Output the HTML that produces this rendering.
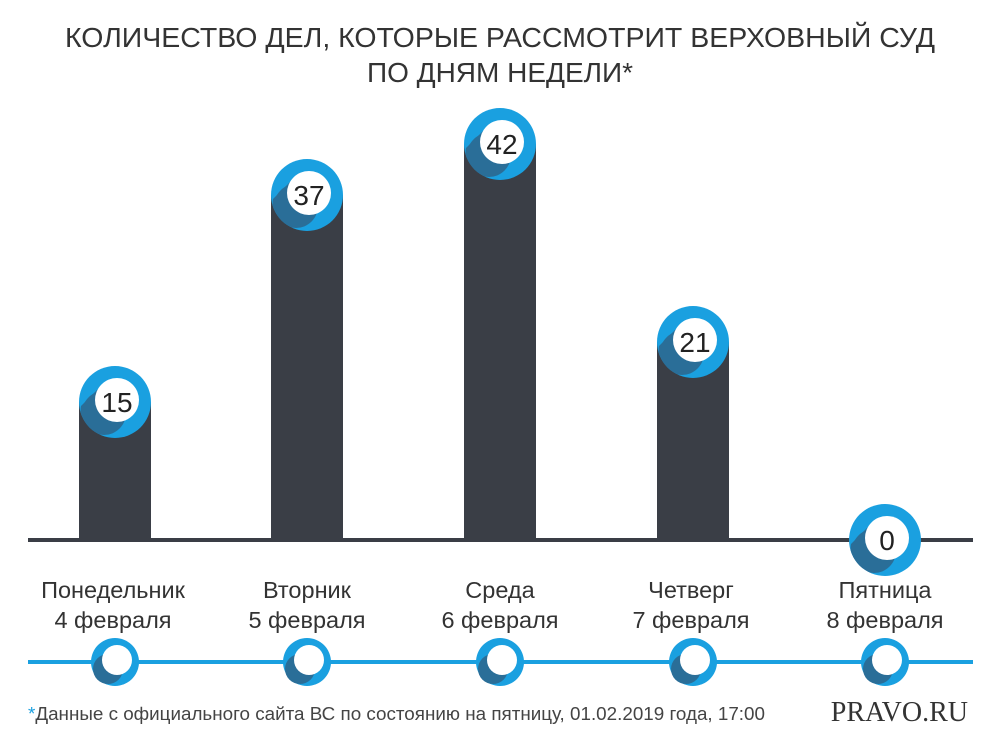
<!DOCTYPE html>
<html><head><meta charset="utf-8"><style>
body{margin:0;background:#fff;}
svg{display:block;font-family:"Liberation Sans",sans-serif;}
</style></head><body>
<svg width="1000" height="750" viewBox="0 0 1000 750" xmlns="http://www.w3.org/2000/svg">
<defs>
<clipPath id="cp"><circle cx="0" cy="0" r="36"/></clipPath>
<g id="bub">
<circle cx="0" cy="0" r="36" fill="#1aa0e0"/>
<g clip-path="url(#cp)"><path d="M-16,-14 L-34,4 A22,22 0 0 0 -8,30 L10,12 Z" fill="#2a6e98"/><circle cx="-11" cy="11" r="22" fill="#2a6e98"/></g>
<circle cx="2" cy="-2" r="22" fill="#fff"/>
</g>
<g id="sm">
<circle cx="0" cy="0" r="24" fill="#1aa0e0"/>
<circle cx="-7" cy="7" r="15" fill="#2a6e98"/>
<circle cx="2" cy="-2" r="15" fill="#fff"/>
</g>
</defs>
<text x="500" y="47" text-anchor="middle" font-size="28" fill="#333" textLength="870" lengthAdjust="spacingAndGlyphs">КОЛИЧЕСТВО ДЕЛ, КОТОРЫЕ РАССМОТРИТ ВЕРХОВНЫЙ СУД</text>
<text x="500" y="82" text-anchor="middle" font-size="28" fill="#333">ПО ДНЯМ НЕДЕЛИ*</text>
<g fill="#3a3e46">
<rect x="79" y="402" width="72" height="138"/>
<rect x="271" y="195" width="72" height="345"/>
<rect x="464" y="144" width="72" height="396"/>
<rect x="657" y="342" width="72" height="198"/>
</g>
<rect x="28" y="538" width="945" height="4" fill="#3a3e46"/>
<use href="#bub" x="115" y="402"/>
<use href="#bub" x="307" y="195"/>
<use href="#bub" x="500" y="144"/>
<use href="#bub" x="693" y="342"/>
<use href="#bub" x="885" y="540"/>
<g font-size="28" fill="#222" text-anchor="middle">
<text x="117" y="412">15</text>
<text x="309" y="205">37</text>
<text x="502" y="154">42</text>
<text x="695" y="352">21</text>
<text x="887" y="550">0</text>
</g>
<g font-size="23.5" fill="#333" text-anchor="middle">
<text x="113" y="598">Понедельник</text><text x="113" y="628">4 февраля</text>
<text x="307" y="598">Вторник</text><text x="307" y="628">5 февраля</text>
<text x="500" y="598">Среда</text><text x="500" y="628">6 февраля</text>
<text x="691" y="598">Четверг</text><text x="691" y="628">7 февраля</text>
<text x="885" y="598">Пятница</text><text x="885" y="628">8 февраля</text>
</g>
<rect x="28" y="660" width="945" height="4" fill="#1aa0e0"/>
<use href="#sm" x="115" y="662"/>
<use href="#sm" x="307" y="662"/>
<use href="#sm" x="500" y="662"/>
<use href="#sm" x="693" y="662"/>
<use href="#sm" x="885" y="662"/>
<text x="28" y="720" font-size="18" fill="#444" textLength="737" lengthAdjust="spacingAndGlyphs"><tspan fill="#1aa0e0">*</tspan>Данные с официального сайта ВС по состоянию на пятницу, 01.02.2019 года, 17:00</text>
<text x="968" y="721" text-anchor="end" font-size="28" fill="#333" font-family="Liberation Serif,serif">PRAVO.RU</text>
</svg>
</body></html>
